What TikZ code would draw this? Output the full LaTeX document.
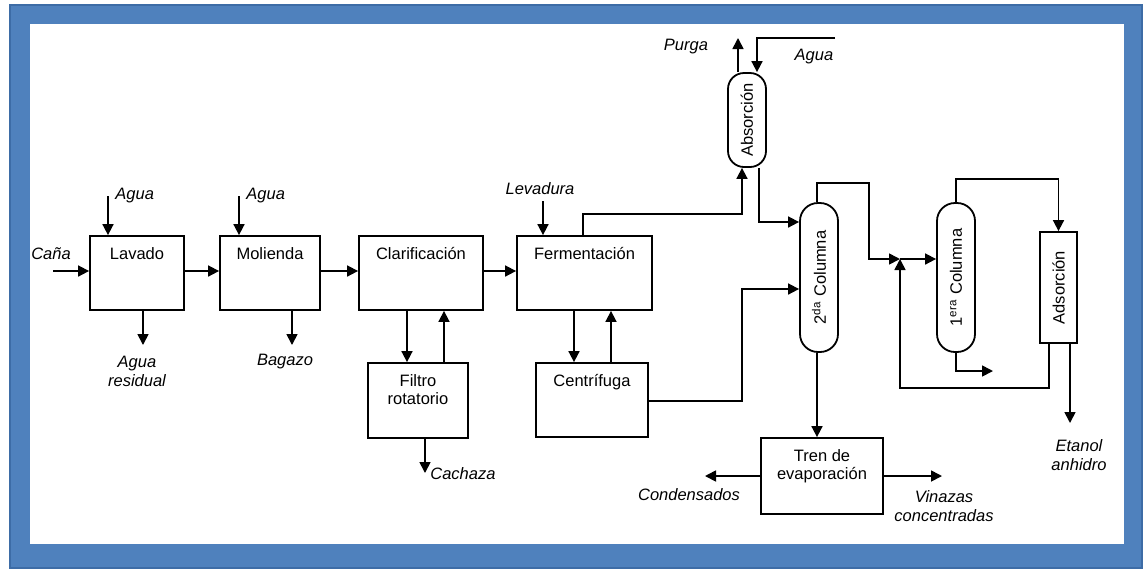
\documentclass[tikz,border=0pt]{standalone}
\usepackage{fontspec}
\setmainfont{Liberation Sans}
\usepackage{graphicx}
\usetikzlibrary{arrows.meta}
\definecolor{marco}{HTML}{4F81BD}
\definecolor{marcoborde}{HTML}{3D6CA6}
\tikzset{
	flujo/.style={-{Triangle[length=5.5pt,width=5.5pt]}, line width=0.85pt},
	unidad/.style={draw, line width=0.9pt, inner sep=0pt,
		label={[anchor=north, inner sep=0pt, yshift=-5.8pt, align=center]north:#1}},
	torre/.style={draw, line width=0.9pt, rounded corners=9pt, inner sep=0pt, minimum width=19pt},
	corriente/.style={font=\fontsize{8.25}{9.4}\selectfont\itshape, align=center, inner sep=1pt},
}
\begin{document}
\begin{tikzpicture}[x=0.5pt, y=-0.5pt, font=\fontsize{8.25}{9.3}\selectfont]
	\useasboundingbox (0,0) rectangle (1147,570);
	\fill[marco] (10,5) rectangle (1142,568);
	\draw[marcoborde, line width=0.6pt] (10,5) rectangle (1142,568);
	\fill[white] (30,24) rectangle (1124,544);

	\node[unidad=Lavado, minimum width=47pt, minimum height=37pt] (lavado) at (137,273) {};
	\node[unidad=Molienda, minimum width=50pt, minimum height=37pt] (molienda) at (270,273) {};
	\node[unidad=Clarificación, minimum width=62pt, minimum height=37pt] (clarif) at (421,273) {};
	\node[unidad=Fermentación, minimum width=67.5pt, minimum height=37pt] (ferment) at (584.5,273) {};
	\node[unidad={Filtro\\rotatorio}, minimum width=50pt, minimum height=37.5pt] (filtro) at (418,400.5) {};
	\node[unidad=Centrífuga, minimum width=56pt, minimum height=37pt] (centrif) at (592,400) {};
	\node[unidad={Tren de\\evaporación}, minimum width=61pt, minimum height=38pt] (tren) at (822,476) {};
	\node[torre, rounded corners=8pt, minimum height=47pt] (absorc) at (747,120) {\rotatebox{90}{Absorción}};
	\node[torre, minimum height=74.5pt] (columna2) at (819,277.5) {\rotatebox{90}{2\textsuperscript{da} Columna}};
	\node[torre, minimum height=74.5pt] (columna1) at (956,277.5) {\rotatebox{90}{1\textsuperscript{era} Columna}};
	\node[draw, line width=0.9pt, inner sep=0pt, minimum width=18.5pt, minimum height=55.5pt] (adsorc) at (1058.5,287.5) {\rotatebox{90}{Adsorción}};

	\coordinate (cana) at (53,271);
	\node[corriente] (tcana) at (51,254) {Caña};
	\draw[flujo] (cana) -- (cana -| lavado.west);
	\draw[flujo] (lavado.east |- cana) -- (molienda.west |- cana);
	\draw[flujo] (molienda.east |- cana) -- (clarif.west |- cana);
	\draw[flujo] (clarif.east |- cana) -- (ferment.west |- cana);

	\coordinate (agua1) at (108,196);
	\node[corriente, anchor=west] (tagua1) at (113,196) {Agua};
	\draw[flujo] (agua1) -- (agua1 |- lavado.north);
	\coordinate (agua2) at (239,196);
	\node[corriente, anchor=west] (tagua2) at (244,196) {Agua};
	\draw[flujo] (agua2) -- (agua2 |- molienda.north);

	\coordinate (resid) at (143,345);
	\draw[flujo] (resid |- lavado.south) -- (resid);
	\node[corriente] (tresid) at (137,371) {Agua\\residual};
	\coordinate (bagazo) at (292,345);
	\draw[flujo] (bagazo |- molienda.south) -- (bagazo);
	\node[corriente] (tbagazo) at (285,362) {Bagazo};

	\draw[flujo] (clarif.south -| 407,0) -- (filtro.north -| 407,0);
	\draw[flujo] (filtro.north -| 444,0) -- (clarif.south -| 444,0);
	\coordinate (cachaza) at (425,473);
	\draw[flujo] (cachaza |- filtro.south) -- (cachaza);
	\node[corriente, anchor=west] (tcachaza) at (428,474) {Cachaza};

	\coordinate (levad) at (543,201);
	\node[corriente] (tlevad) at (540,189) {Levadura};
	\draw[flujo] (levad) -- (levad |- ferment.north);
	\draw[flujo] (ferment.south -| 574,0) -- (centrif.north -| 574,0);
	\draw[flujo] (centrif.north -| 611,0) -- (ferment.south -| 611,0);

	\draw[flujo] (ferment.north -| 583,0) |- (742,214) -- (absorc.south -| 742,0);
	\coordinate (purga) at (738,38);
	\draw[flujo] (absorc.north -| purga) -- (purga);
	\node[corriente] (tpurga) at (686,47) {Purga};
	\coordinate (agua3) at (835,38);
	\draw[flujo] (agua3) -| (absorc.north -| 757,0);
	\node[corriente] (tagua3) at (814,57) {Agua};

	\draw[flujo] (absorc.south -| 759,0) |- (columna2.west |- 0,222);
	\draw[flujo] (centrif.east |- 0,401) -| (742,289) -- (columna2.west |- 0,289);

	\coordinate (mezcla) at (900,259);
	\draw[flujo] (columna2.north -| 817,0) |- (869,183) |- (mezcla);
	\draw[flujo] (mezcla) -- (columna1.west |- mezcla);
	\draw[flujo] (adsorc.south -| 1049,0) |- (mezcla |- 0,388) -- (mezcla);
	\draw[flujo] (columna1.north) |- (adsorc.north |- 0,179) -- (adsorc.north);
	\coordinate (fondo1) at (993,371);
	\draw[flujo] (columna1.south) |- (fondo1);

	\coordinate (etanol) at (1070,423);
	\draw[flujo] (adsorc.south -| etanol) -- (etanol);
	\node[corriente] (tetanol) at (1079,455) {Etanol\\anhidro};

	\draw[flujo] (columna2.south -| 817,0) -- (tren.north -| 817,0);
	\coordinate (conden) at (705,476);
	\draw[flujo] (tren.west) -- (conden);
	\node[corriente] (tconden) at (689,495) {Condensados};
	\coordinate (vinaza) at (942,476);
	\draw[flujo] (tren.east) -- (vinaza);
	\node[corriente] (tvinaza) at (944,506) {Vinazas\\concentradas};
\end{tikzpicture}
\end{document}
